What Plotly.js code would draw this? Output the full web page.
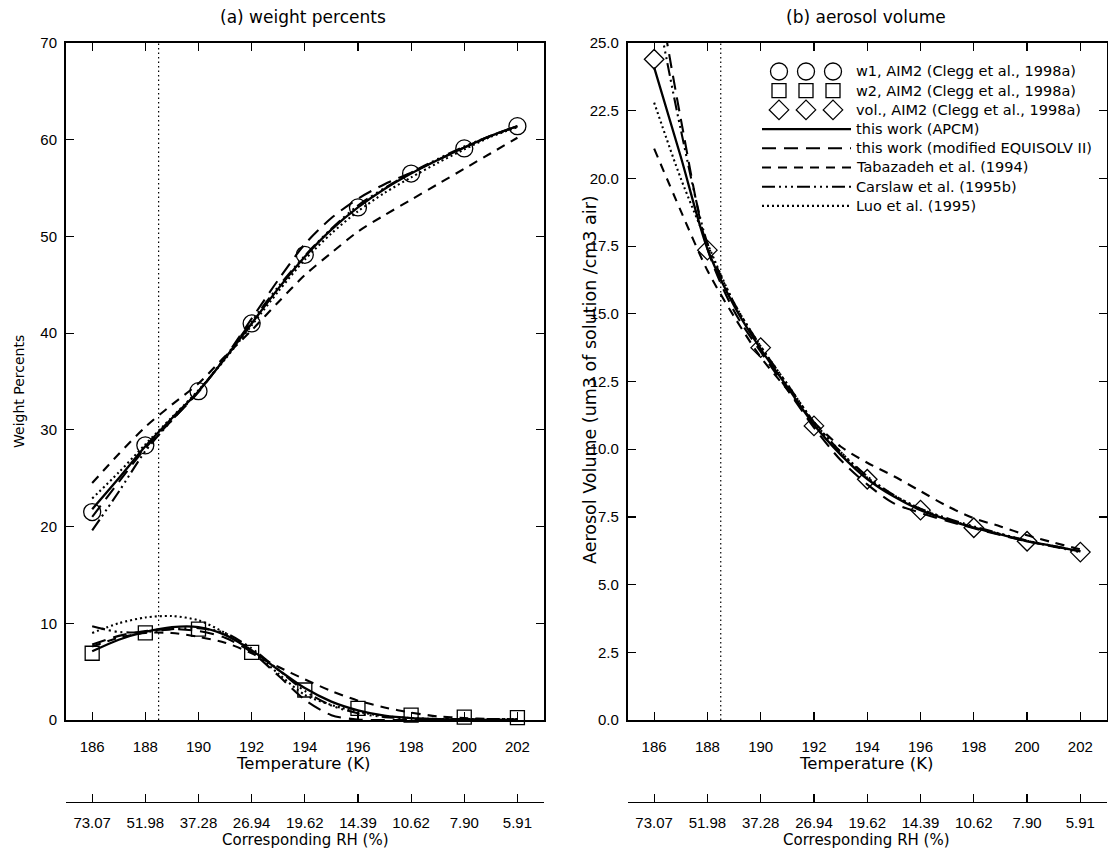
<!DOCTYPE html>
<html>
<head>
<meta charset="utf-8">
<script src="https://cdn.plot.ly/plotly-3.0.1.min.js"></script>
<style>html,body{margin:0;padding:0;background:#fff;}#chart{width:1108px;height:851px;}</style>
</head>
<body>
<div id="chart"></div>
<script>
// ---------- data ----------
const temps = [186, 188, 190, 192, 194, 196, 198, 200, 202];
const rhLabels = ['73.07', '51.98', '37.28', '26.94', '19.62', '14.39', '10.62', '7.90', '5.91'];
const refTemp = 188.5;

// AIM2 (Clegg et al., 1998a) points
const aimW1 = [21.5, 28.4, 34.0, 41.0, 48.1, 53.0, 56.5, 59.1, 61.4];
const aimW2 = [6.9, 9.0, 9.4, 7.0, 3.1, 1.2, 0.5, 0.3, 0.25];
const aimVol = [24.4, 17.35, 13.75, 10.86, 8.89, 7.75, 7.1, 6.6, 6.2];

// model curves, 1 K steps
const tFine = [186, 187, 188, 189, 190, 191, 192, 193, 194, 195, 196, 197, 198, 199, 200, 201, 202];

const apcmW1      = [21.8, 25.0, 28.3, 31.2, 34.0, 37.4, 41.0, 44.6, 47.9, 50.7, 53.0, 54.9, 56.5, 57.9, 59.2, 60.4, 61.4];
const equisolvW1  = [21.0, 24.6, 28.1, 31.0, 33.9, 37.5, 41.5, 45.5, 49.2, 51.9, 53.9, 55.4, 56.6, 57.9, 59.2, 60.4, 61.4];
const tabazadehW1 = [24.5, 27.5, 30.3, 32.6, 34.8, 37.6, 40.3, 43.2, 46.0, 48.3, 50.5, 52.2, 53.8, 55.4, 57.0, 58.6, 60.2];
const carslawW1   = [19.6, 23.6, 27.8, 31.0, 34.0, 37.5, 41.2, 44.8, 48.0, 50.8, 53.2, 55.0, 56.6, 58.0, 59.3, 60.4, 61.4];
const luoW1       = [22.9, 25.6, 28.5, 31.3, 34.1, 37.3, 40.8, 44.3, 47.6, 50.3, 52.6, 54.5, 56.1, 57.6, 59.0, 60.3, 61.3];

const apcmW2      = [7.1, 8.3, 9.1, 9.6, 9.6, 8.8, 7.2, 5.2, 3.3, 1.9, 1.0, 0.45, 0.2, 0.1, 0.05, 0.02, 0.0];
const equisolvW2  = [7.8, 8.7, 9.2, 9.4, 9.2, 8.5, 7.0, 4.6, 2.1, 0.5, 0.05, 0.0, 0.0, 0.0, 0.0, 0.0, 0.0];
const tabazadehW2 = [7.6, 8.5, 9.0, 9.0, 8.6, 8.0, 6.9, 5.5, 4.2, 3.0, 2.0, 1.3, 0.76, 0.38, 0.2, 0.1, 0.05];
const carslawW2   = [9.7, 9.1, 9.1, 9.4, 9.5, 9.0, 7.4, 5.2, 3.0, 1.5, 0.7, 0.3, 0.15, 0.1, 0.1, 0.1, 0.1];
const luoW2       = [9.0, 10.0, 10.6, 10.75, 10.3, 9.0, 7.2, 4.8, 2.6, 1.55, 0.86, 0.4, 0.2, 0.1, 0.1, 0.1, 0.1];

const apcmVol      = [24.1, 20.8, 17.4, 15.3, 13.7, 12.3, 10.9, 9.8, 8.9, 8.25, 7.75, 7.4, 7.1, 6.85, 6.6, 6.42, 6.23];
const equisolvVol  = [27.8, 22.2, 17.4, 15.1, 13.6, 12.2, 10.8, 9.6, 8.7, 8.0, 7.65, 7.35, 7.08, 6.83, 6.6, 6.42, 6.23];
const tabazadehVol = [21.1, 18.8, 16.6, 14.9, 13.4, 12.2, 11.0, 10.1, 9.5, 9.0, 8.45, 7.9, 7.45, 7.15, 6.82, 6.55, 6.3];
const carslawVol   = [26.8, 21.8, 17.6, 15.4, 13.8, 12.4, 11.0, 9.9, 9.0, 8.3, 7.8, 7.45, 7.15, 6.88, 6.62, 6.4, 6.2];
const luoVol       = [22.8, 20.0, 17.6, 15.4, 13.8, 12.4, 11.0, 9.9, 8.95, 8.3, 7.8, 7.42, 7.12, 6.87, 6.62, 6.42, 6.22];

const legendLabels = [
  'w1, AIM2 (Clegg et al., 1998a)',
  'w2, AIM2 (Clegg et al., 1998a)',
  'vol., AIM2 (Clegg et al., 1998a)',
  'this work (APCM)',
  'this work (modified EQUISOLV II)',
  'Tabazadeh et al. (1994)',
  'Carslaw et al. (1995b)',
  'Luo et al. (1995)'
];

// ---------- styles ----------
const TICKFONT = '"Liberation Sans", Arial, sans-serif';
const TEXTFONT = '"DejaVu Sans", Verdana, sans-serif';
const K = '#000';
const styles = {
  apcm:      {color: K, width: 2.3, dash: 'solid'},
  equisolv:  {color: K, width: 2.1, dash: '14px,8px'},
  tabazadeh: {color: K, width: 2.1, dash: '9px,7px'},
  carslaw:   {color: K, width: 2.1, dash: '13px,4px,2px,4px,2px,4px,2px,4px'},
  luo:       {color: K, width: 2.1, dash: '2px,3px'}
};
const markerStyles = {
  circle:  {symbol: 'circle-open', size: 17, color: K, line: {color: K, width: 1.3}},
  square:  {symbol: 'square-open', size: 14, color: K, line: {color: K, width: 1.3}},
  diamond: {symbol: 'diamond-open', size: 15, color: K, line: {color: K, width: 1.3}}
};

function curve(y, style, xa, ya) {
  return {x: tFine, y: y, xaxis: xa, yaxis: ya, mode: 'lines', type: 'scatter',
          line: Object.assign({shape: 'spline', smoothing: 0.8}, style), hoverinfo: 'skip'};
}
function pts(y, m, xa, ya) {
  return {x: temps, y: y, xaxis: xa, yaxis: ya, mode: 'markers', type: 'scatter',
          marker: m, cliponaxis: false, hoverinfo: 'skip'};
}

const traces = [];
// left panel
[[apcmW1, apcmW2, 'apcm'], [equisolvW1, equisolvW2, 'equisolv'], [tabazadehW1, tabazadehW2, 'tabazadeh'],
 [carslawW1, carslawW2, 'carslaw'], [luoW1, luoW2, 'luo']].forEach(([a, b, s]) => {
  traces.push(curve(a, styles[s], 'x', 'y'));
  traces.push(curve(b, styles[s], 'x', 'y'));
});
traces.push(pts(aimW1, markerStyles.circle, 'x', 'y'));
traces.push(pts(aimW2, markerStyles.square, 'x', 'y'));
// right panel
[[apcmVol, 'apcm'], [equisolvVol, 'equisolv'], [tabazadehVol, 'tabazadeh'], [carslawVol, 'carslaw'], [luoVol, 'luo']]
  .forEach(([a, s]) => traces.push(curve(a, styles[s], 'x2', 'y2')));
traces.push(pts(aimVol, markerStyles.diamond, 'x2', 'y2'));
// empty traces to bind the RH axes
traces.push({x: [], y: [], xaxis: 'x3', yaxis: 'y', type: 'scatter', mode: 'lines'});
traces.push({x: [], y: [], xaxis: 'x4', yaxis: 'y2', type: 'scatter', mode: 'lines'});

// legend (drawn in its own hidden axes; row index on y)
const legendRows = [0, 1, 2, 3, 4, 5, 6, 7];
const legMarkerX = [779, 806, 833];
const legLineX = [762, 851];
['circle', 'square', 'diamond'].forEach((m, i) => {
  traces.push({x: legMarkerX, y: legMarkerX.map(() => legendRows[i]), xaxis: 'x5', yaxis: 'y5',
               mode: 'markers', type: 'scatter', marker: markerStyles[m], cliponaxis: false, hoverinfo: 'skip'});
});
['apcm', 'equisolv', 'tabazadeh', 'carslaw', 'luo'].forEach((s, i) => {
  traces.push({x: legLineX, y: legLineX.map(() => legendRows[i + 3]), xaxis: 'x5', yaxis: 'y5',
               mode: 'lines', type: 'scatter', line: styles[s], cliponaxis: false, hoverinfo: 'skip'});
});

// ---------- layout ----------
const H = 851, W = 1108;
const yDom = [(H - 720) / H, (H - 43) / H];
const leftDom = [65.6 / W, 544 / W];
const rightDom = [627.5 / W, 1107 / W];
const rhPos = (H - 802) / H;

function baseX(extra) {
  return Object.assign({
    range: [185, 203], tickmode: 'linear', tick0: 186, dtick: 2,
    ticks: 'inside', ticklen: 8, tickwidth: 1.2, tickcolor: K,
    showline: true, linewidth: 1.6, linecolor: K, mirror: 'ticks',
    showgrid: false, zeroline: false, tickfont: {family: TICKFONT, size: 15, color: K},
    ticklabelstandoff: 12, fixedrange: true
  }, extra);
}
function baseY(extra) {
  return Object.assign({
    ticks: 'inside', ticklen: 8, tickwidth: 1.2, tickcolor: K,
    showline: true, linewidth: 1.6, linecolor: K, mirror: 'ticks',
    showgrid: false, zeroline: false, tickfont: {family: TICKFONT, size: 15, color: K},
    ticklabelstandoff: 4, fixedrange: true
  }, extra);
}
function rhAxis(over) {
  return {
    overlaying: over, anchor: 'free', position: rhPos, side: 'bottom',
    range: [185, 203], tickmode: 'array', tickvals: temps, ticktext: rhLabels,
    ticks: 'inside', ticklen: 8, tickwidth: 1.2, tickcolor: K,
    showline: true, linewidth: 1.2, linecolor: K, showgrid: false, zeroline: false,
    tickfont: {family: TICKFONT, size: 15, color: K}, ticklabelstandoff: 7, fixedrange: true
  };
}

const ann = (text, x, y, size, opts) => Object.assign({
  text: text, x: x / W, y: 1 - y / H, xref: 'paper', yref: 'paper', showarrow: false,
  xanchor: 'center', yanchor: 'middle', font: {family: TEXTFONT, size: size, color: K}
}, opts || {});

const annotations = [
  ann('(a) weight percents', 303, 17, 17),
  ann('(b) aerosol volume', 866, 17, 17),
  ann('Temperature (K)', 303, 763, 16.5),
  ann('Temperature (K)', 866, 763, 16.5),
  ann('Corresponding RH (%)', 305, 840, 15),
  ann('Corresponding RH (%)', 866, 840, 15),
  ann('Weight Percents', 19, 392, 14, {textangle: -90}),
  ann('Aerosol Volume (um3 of solution /cm3 air)', 590, 380, 17.5, {textangle: -90})
];
legendLabels.forEach((t, i) => {
  annotations.push({text: t, x: 854 / W, xref: 'paper', y: legendRows[i], yref: 'y5', showarrow: false,
                    xanchor: 'left', yanchor: 'middle', font: {family: TEXTFONT, size: 14.5, color: K}});
});

const layout = {
  width: W, height: H, margin: {l: 0, r: 0, t: 0, b: 0, pad: 0},
  paper_bgcolor: '#fff', plot_bgcolor: 'rgba(0,0,0,0)', showlegend: false,
  font: {family: TICKFONT, size: 15, color: K},
  xaxis: baseX({domain: leftDom, anchor: 'y'}),
  yaxis: baseY({domain: yDom, anchor: 'x', range: [0, 70], tickmode: 'linear', tick0: 0, dtick: 10}),
  xaxis2: baseX({domain: rightDom, anchor: 'y2'}),
  yaxis2: baseY({domain: yDom, anchor: 'x2', range: [0, 25], tickmode: 'linear', tick0: 0, dtick: 2.5, tickformat: '.1f'}),
  xaxis3: rhAxis('x'),
  xaxis4: rhAxis('x2'),
  xaxis5: {domain: [755 / W, 860 / W], range: [755, 860], visible: false, fixedrange: true, anchor: 'y5'},
  yaxis5: {domain: [(H - 215.5) / H, (H - 61.9) / H], range: [7.5, -0.5], visible: false, fixedrange: true, anchor: 'x5'},
  shapes: [
    {type: 'line', xref: 'x', yref: 'y domain', x0: refTemp, x1: refTemp, y0: 0, y1: 1,
     line: {color: K, width: 1.2, dash: '1.5px,3px'}},
    {type: 'line', xref: 'x2', yref: 'y2 domain', x0: refTemp, x1: refTemp, y0: 0, y1: 1,
     line: {color: K, width: 1.2, dash: '1.5px,3px'}}
  ],
  annotations: annotations
};

Plotly.newPlot('chart', traces, layout, {staticPlot: true, displayModeBar: false});
</script>
</body>
</html>
